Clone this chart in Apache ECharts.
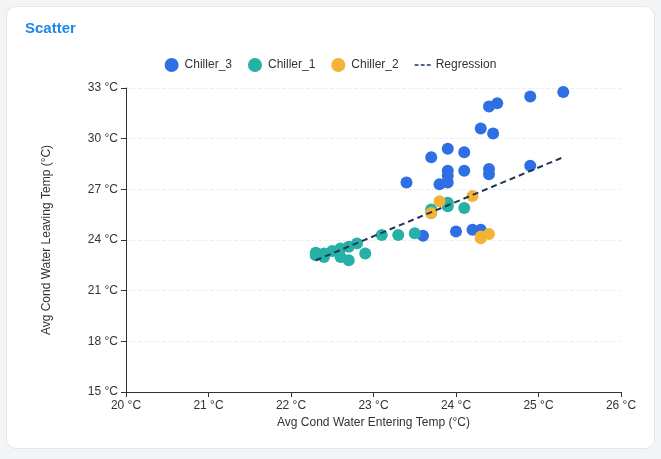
<!DOCTYPE html>
<html><head><meta charset="utf-8">
<script src="https://cdn.jsdelivr.net/npm/echarts@6/dist/echarts.min.js"></script>
<style>
body{margin:0;background:#f3f4f6;font-family:Inter,"Noto Sans",sans-serif}
.card{position:absolute;left:6px;top:6px;width:647px;height:441px;background:#fff;border:1px solid #e3e6ea;border-radius:10px}
#c{position:absolute;left:0;top:0;width:661px;height:459px}
</style></head><body>
<div class="card"></div>
<div id="c"></div>
<script>
const chiller3 = [[25.3,32.76],[24.9,32.5],[24.5,32.1],[24.4,31.9],[24.3,30.6],[24.45,30.3],[23.7,28.9],[23.9,29.4],[24.1,29.2],[23.4,27.4],[23.8,27.3],[23.9,28.1],[23.9,27.8],[23.9,27.4],[24.1,28.1],[24.4,28.2],[24.4,27.9],[24.9,28.4],[23.6,24.25],[24.0,24.5],[24.2,24.6],[24.3,24.6]];
const chiller1 = [[23.1,24.3],[23.3,24.3],[23.5,24.4],[23.7,25.8],[23.9,26.2],[23.9,26.0],[24.1,25.9],[23.7,25.6],[22.3,23.25],[22.4,23.2],[22.5,23.35],[22.6,23.5],[22.7,23.6],[22.8,23.8],[22.4,23.0],[22.6,23.0],[22.7,22.8],[22.9,23.2],[22.3,23.1]];
const chiller2 = [[23.8,26.3],[23.7,25.6],[24.2,26.6],[24.3,24.2],[24.4,24.35],[24.3,24.1]];
const regression = [[22.3,22.8],[25.3,28.9]];

const chart = echarts.init(document.getElementById('c'));
const axisLabel = {color:'#333', fontSize:12, formatter:'{value} °C'};
chart.setOption({
  title:{text:'Scatter', left:20, top:16, textStyle:{color:'#1e88e5', fontSize:15, fontWeight:'bold'}},
  legend:{top:53, left:'center', itemWidth:16, itemHeight:14, itemGap:16, textStyle:{color:'#333',fontSize:12},
    data:[{name:'Chiller_3',icon:'circle'},{name:'Chiller_1',icon:'circle'},{name:'Chiller_2',icon:'circle'},
      {name:'Regression',icon:'path://M0,6h5v2h-5z M8,6h5v2h-5z M16,6h5v2h-5z'}]},
  grid:{left:126, right:40, top:88, bottom:67},
  xAxis:{type:'value', min:20, max:26, interval:1, name:'Avg Cond Water Entering Temp (°C)', nameLocation:'middle', nameGap:23,
    nameTextStyle:{color:'#333',fontSize:12}, axisLabel, splitLine:{show:false},
    axisLine:{show:true,lineStyle:{color:'#333'}}, axisTick:{show:true}},
  yAxis:{type:'value', min:15, max:33, interval:3, name:'Avg Cond Water Leaving Temp (°C)', nameLocation:'middle', nameGap:73,
    nameTextStyle:{color:'#333',fontSize:12}, axisLabel,
    splitLine:{lineStyle:{color:'#eee',type:'dashed'}}, axisLine:{show:true,lineStyle:{color:'#333'}}, axisTick:{show:true}},
  series:[
    {name:'Chiller_3', type:'scatter', symbolSize:12, data:chiller3, itemStyle:{color:'#2f6fe4',opacity:1}},
    {name:'Chiller_1', type:'scatter', symbolSize:12, data:chiller1, itemStyle:{color:'#26b0a6',opacity:1}},
    {name:'Chiller_2', type:'scatter', symbolSize:12, data:chiller2, itemStyle:{color:'#f5b335',opacity:1}},
    {name:'Regression', type:'line', data:regression, symbol:'none', lineStyle:{color:'#1d3557',width:2,type:[6,4]}, itemStyle:{color:'#1d3557'}}
  ]
});
</script></body></html>
